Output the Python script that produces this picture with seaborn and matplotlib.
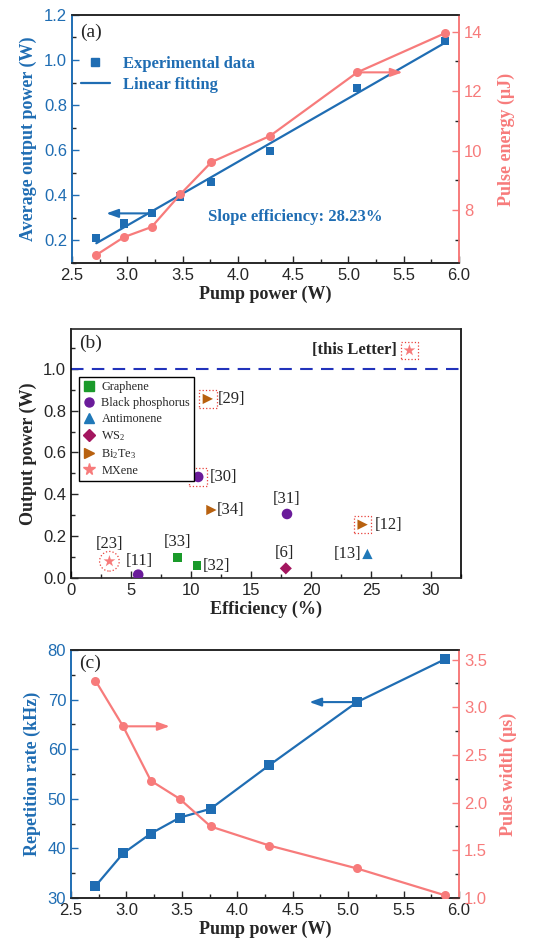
import matplotlib
matplotlib.use("Agg")
import matplotlib.pyplot as plt
from matplotlib.lines import Line2D
from matplotlib.ticker import MultipleLocator
import numpy as np
import pandas as pd
import seaborn as sns

# panel (a) / (c): pump power sweep
pump_power = [2.72, 2.97, 3.22, 3.48, 3.76, 4.29, 5.08, 5.87]
avg_output_power = [0.21, 0.275, 0.32, 0.395, 0.46, 0.595, 0.875, 1.085]
pulse_energy = [6.49, 7.09, 7.43, 8.53, 9.61, 10.49, 12.63, 13.94]
rep_rate = [32.4, 39.0, 43.0, 46.2, 48.0, 56.8, 69.5, 78.1]
pulse_width = [3.28, 2.80, 2.23, 2.04, 1.75, 1.55, 1.31, 1.03]
slope_efficiency = "28.23%"

# panel (b): comparison with other saturable absorbers
materials = ["Graphene", "Graphene", "Black phosphorus", "Black phosphorus", "Black phosphorus",
             "Antimonene", "WS2", "Bi2Te3", "Bi2Te3", "Bi2Te3", "MXene", "MXene"]
efficiency = [8.9, 10.5, 5.6, 10.6, 18.0, 24.7, 17.9, 11.4, 11.7, 24.3, 3.2, 28.2]
output_power = [0.099, 0.059, 0.016, 0.483, 0.306, 0.115, 0.046, 0.856, 0.325, 0.255, 0.080, 1.088]
refs = ["[33]", "[32]", "[11]", "[30]", "[31]", "[13]", "[6]", "[29]", "[34]", "[12]", "[23]", "[this Letter]"]
boxed_refs = ["[30]", "[29]", "[12]", "[this Letter]"]
circled_refs = ["[23]"]
material_order = ["Graphene", "Black phosphorus", "Antimonene", "WS2", "Bi2Te3", "MXene"]
material_labels = ["Graphene", "Black phosphorus", "Antimonene", "WS$_2$", "Bi$_2$Te$_3$", "MXene"]

BLUE = "#1f6db3"
SALMON = "#f77b7b"
palette = {"Graphene": "#1a9a2a", "Black phosphorus": "#6a1b9a", "Antimonene": "#1f78b8",
           "WS2": "#a3165f", "Bi2Te3": "#b8610f", "MXene": "#f77b7b"}
marker_map = {"Graphene": "s", "Black phosphorus": "o", "Antimonene": "^",
              "WS2": "D", "Bi2Te3": ">", "MXene": "*"}
size_map = {"Graphene": 40, "Black phosphorus": 58, "Antimonene": 55,
            "WS2": 38, "Bi2Te3": 55, "MXene": 80}
# (dx, dy, ha, va) label offsets in points
label_offsets = {"[33]": (0, 5, "center", "bottom"), "[32]": (4, 0, "left", "center"),
                 "[11]": (1, 4, "center", "bottom"), "[30]": (8, 0, "left", "center"),
                 "[31]": (0, 5, "center", "bottom"), "[13]": (-4, 0, "right", "center"),
                 "[6]": (-1, 5, "center", "bottom"), "[29]": (7, 0, "left", "center"),
                 "[34]": (4, 0, "left", "center"), "[12]": (9, 0, "left", "center"),
                 "[23]": (0, 7, "center", "bottom"), "[this Letter]": (-9, 0, "right", "center")}

sns.set_style("ticks")
plt.rcParams["font.family"] = ["Liberation Sans", "DejaVu Sans"]
plt.rcParams["mathtext.fontset"] = "custom"
plt.rcParams["mathtext.rm"] = "Liberation Serif"
plt.rcParams["mathtext.it"] = "Liberation Serif:italic"
plt.rcParams["mathtext.bf"] = "Liberation Serif:bold"

SERIF = "Liberation Serif"
LABEL_FS = 13
TICK_FS = 12


def style_axis(ax, left_color="black", right_color="black"):
    ax.spines["left"].set_color(left_color)
    ax.spines["right"].set_color(right_color)
    for s in ax.spines.values():
        s.set_linewidth(1.2)
    ax.tick_params(which="both", direction="in")
    ax.tick_params(which="major", length=5, width=1, labelsize=TICK_FS)
    ax.tick_params(which="minor", length=3, width=1)


def arrow(ax, start, end_x, color):
    ax.annotate("", xy=(end_x, start[1]), xytext=start,
                arrowprops=dict(arrowstyle="-|>,head_length=0.7,head_width=0.25",
                                color=color, lw=1.5, shrinkA=0, shrinkB=0), zorder=6)


fig = plt.figure(figsize=(5.47, 9.46), dpi=100)

# ---------------- (a) ----------------
ax_a = fig.add_axes([0.1316, 0.722, 0.7075, 0.2622])
ax_a2 = ax_a.twinx()
slope, intercept = np.polyfit(pump_power, avg_output_power, 1)
fit_x = [pump_power[0], pump_power[-1]]
fit_y = [slope * x + intercept for x in fit_x]
sns.lineplot(x=fit_x, y=fit_y, ax=ax_a, color=BLUE, linewidth=1.6, zorder=3)
sns.scatterplot(x=pump_power, y=avg_output_power, ax=ax_a, marker="s", s=34,
                color=BLUE, edgecolor="none", zorder=4)
sns.lineplot(x=pump_power, y=pulse_energy, ax=ax_a2, color=SALMON, linewidth=1.6,
             marker="o", markersize=6.5, markeredgewidth=0, zorder=3)
ax_a.set_xlim(2.5, 6.0)
ax_a.set_ylim(0.1, 1.2)
ax_a2.set_ylim(6.22, 14.56)
ax_a.xaxis.set_major_locator(MultipleLocator(0.5))
ax_a.xaxis.set_minor_locator(MultipleLocator(0.25))
ax_a.yaxis.set_major_locator(MultipleLocator(0.2))
ax_a.yaxis.set_minor_locator(MultipleLocator(0.1))
ax_a2.yaxis.set_major_locator(MultipleLocator(2))
ax_a2.yaxis.set_minor_locator(MultipleLocator(1))
style_axis(ax_a, BLUE, SALMON)
style_axis(ax_a2, BLUE, SALMON)
ax_a.tick_params(axis="y", colors=BLUE)
ax_a2.tick_params(axis="y", colors=SALMON)
ax_a.set_xlabel("Pump power (W)", fontsize=LABEL_FS, fontweight="bold", family=SERIF, labelpad=2)
ax_a.set_ylabel("Average output power (W)", fontsize=LABEL_FS, fontweight="bold", family=SERIF,
                color=BLUE, labelpad=5)
ax_a2.set_ylabel("Pulse energy (\u03bcJ)", fontsize=LABEL_FS, fontweight="bold", family=SERIF,
                 color=SALMON, labelpad=11)
arrow(ax_a, (pump_power[2], avg_output_power[2]), 2.81, BLUE)
arrow(ax_a2, (pump_power[6], pulse_energy[6]), 5.49, SALMON)
ax_a.text(3.73, 0.305, f"Slope efficiency: {slope_efficiency}", color=BLUE, fontsize=12,
          fontweight="bold", family=SERIF, va="center")
ax_a.text(0.02, 0.93, "(a)", transform=ax_a.transAxes, fontsize=14, family=SERIF, va="center")
handles_a = [Line2D([], [], marker="s", linestyle="none", color=BLUE, markersize=5.5),
             Line2D([], [], color=BLUE, linewidth=1.6)]
ax_a.legend(handles_a, ["Experimental data", "Linear fitting"], loc="upper left",
            bbox_to_anchor=(-0.015, 0.895), frameon=False, labelcolor=BLUE, handlelength=1.7,
            handletextpad=0.8, labelspacing=0.3,
            prop={"family": SERIF, "weight": "bold", "size": 12})

# ---------------- (b) ----------------
ax_b = fig.add_axes([0.1298, 0.389, 0.713, 0.2632])
df_b = pd.DataFrame({"material": materials, "efficiency": efficiency,
                     "power": output_power, "ref": refs})
ax_b.axhline(1.0, color="#2233bb", linestyle=(0, (6, 4)), linewidth=1.5, zorder=1)
for mat in material_order:
    sub = df_b[df_b["material"] == mat]
    sns.scatterplot(data=sub, x="efficiency", y="power", ax=ax_b, marker=marker_map[mat],
                    s=size_map[mat], color=palette[mat], edgecolor="none", zorder=4, legend=False)
boxed = df_b[df_b["ref"].isin(boxed_refs)]
ax_b.scatter(boxed["efficiency"], boxed["power"], marker="s", s=160, facecolors="none",
             edgecolors="#e8403a", linewidths=0.9, linestyles=":", zorder=3)
circled = df_b[df_b["ref"].isin(circled_refs)]
ax_b.scatter(circled["efficiency"], circled["power"], marker="o", s=200, facecolors="none",
             edgecolors="#e8403a", linewidths=0.9, linestyles=":", zorder=3)
for _, row in df_b.iterrows():
    dx, dy, ha, va = label_offsets[row["ref"]]
    bold = row["ref"] == "[this Letter]"
    ax_b.annotate(row["ref"], (row["efficiency"], row["power"]), xytext=(dx, dy),
                  textcoords="offset points", ha=ha, va=va, family=SERIF,
                  fontsize=12, fontweight="bold" if bold else "normal")
ax_b.set_xlim(0, 32.5)
ax_b.set_ylim(0, 1.19)
ax_b.xaxis.set_major_locator(MultipleLocator(5))
ax_b.xaxis.set_minor_locator(MultipleLocator(2.5))
ax_b.yaxis.set_major_locator(MultipleLocator(0.2))
ax_b.yaxis.set_minor_locator(MultipleLocator(0.1))
style_axis(ax_b)
ax_b.set_xlabel("Efficiency (%)", fontsize=LABEL_FS, fontweight="bold", family=SERIF, labelpad=2)
ax_b.set_ylabel("Output power (W)", fontsize=LABEL_FS, fontweight="bold", family=SERIF)
ax_b.text(0.02, 0.944, "(b)", transform=ax_b.transAxes, fontsize=14, family=SERIF, va="center")
handles_b = [Line2D([], [], marker=marker_map[m], linestyle="none", color=palette[m],
                    markersize=8.5 if m == "MXene" else 6.5) for m in material_order]
leg = ax_b.legend(handles_b, material_labels, loc="upper left", bbox_to_anchor=(0.02, 0.807),
                  frameon=True, fancybox=False, edgecolor="black", framealpha=1,
                  handlelength=1.0, handletextpad=0.5, labelspacing=0.32, borderpad=0.35,
                  borderaxespad=0, prop={"family": SERIF, "size": 8.8})
leg.get_frame().set_linewidth(1.0)

# ---------------- (c) ----------------
ax_c = fig.add_axes([0.1298, 0.0507, 0.7093, 0.2622])
ax_c2 = ax_c.twinx()
sns.lineplot(x=pump_power, y=rep_rate, ax=ax_c, color=BLUE, linewidth=1.6, marker="s",
             markersize=6.5, markeredgewidth=0, zorder=3)
sns.lineplot(x=pump_power, y=pulse_width, ax=ax_c2, color=SALMON, linewidth=1.6, marker="o",
             markersize=6.5, markeredgewidth=0, zorder=3)
ax_c.set_xlim(2.5, 6.0)
ax_c.set_ylim(30, 80)
ax_c2.set_ylim(1.0, 3.6)
ax_c.xaxis.set_major_locator(MultipleLocator(0.5))
ax_c.xaxis.set_minor_locator(MultipleLocator(0.25))
ax_c.yaxis.set_major_locator(MultipleLocator(10))
ax_c.yaxis.set_minor_locator(MultipleLocator(5))
ax_c2.yaxis.set_major_locator(MultipleLocator(0.5))
ax_c2.yaxis.set_minor_locator(MultipleLocator(0.25))
style_axis(ax_c, BLUE, SALMON)
style_axis(ax_c2, BLUE, SALMON)
ax_c.tick_params(axis="y", colors=BLUE)
ax_c2.tick_params(axis="y", colors=SALMON)
ax_c.set_xlabel("Pump power (W)", fontsize=LABEL_FS, fontweight="bold", family=SERIF, labelpad=2)
ax_c.set_ylabel("Repetition rate (kHz)", fontsize=LABEL_FS, fontweight="bold", family=SERIF,
                color=BLUE, labelpad=5)
ax_c2.set_ylabel("Pulse width (\u03bcs)", fontsize=LABEL_FS, fontweight="bold", family=SERIF,
                 color=SALMON, labelpad=9)
arrow(ax_c, (pump_power[6], rep_rate[6]), 4.65, BLUE)
arrow(ax_c2, (pump_power[1], pulse_width[1]), 3.39, SALMON)
ax_c.text(0.02, 0.948, "(c)", transform=ax_c.transAxes, fontsize=14, family=SERIF, va="center")

fig.savefig("out.png", dpi=100)
plt.close(fig)
